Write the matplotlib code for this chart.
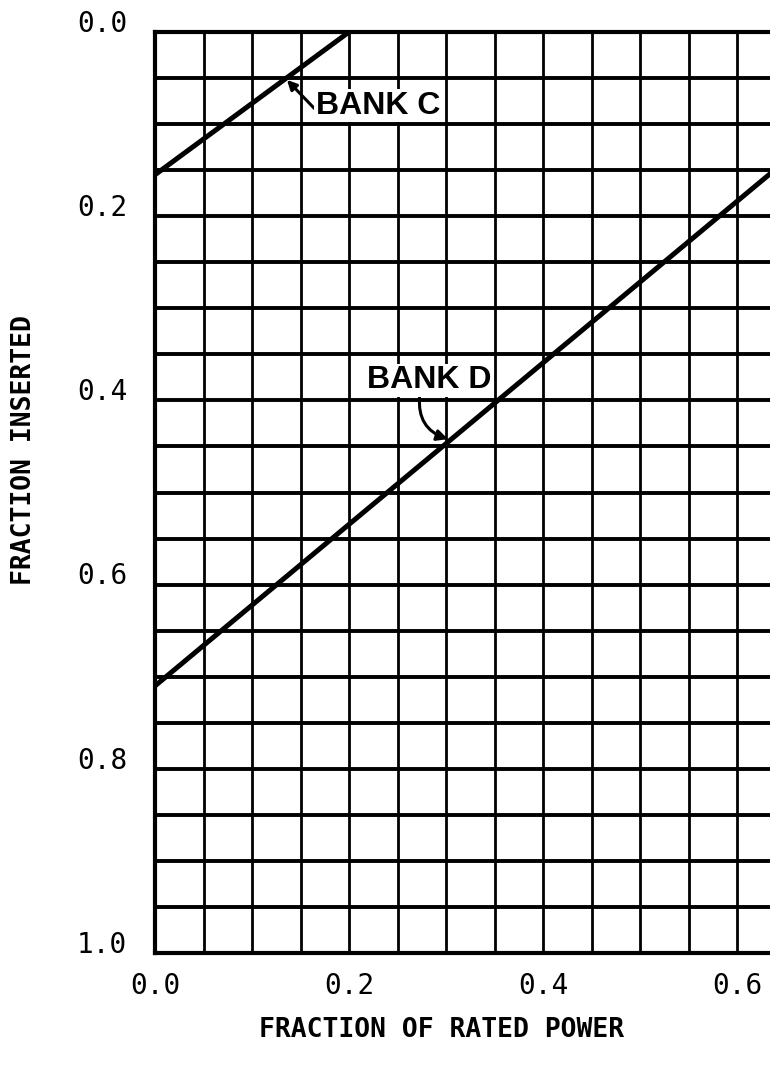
import numpy as np
import matplotlib
matplotlib.use("Agg")
import matplotlib.pyplot as plt
from matplotlib.transforms import ScaledTranslation

# control bank insertion vs. power
bank_c_power = [0.0, 0.2]
bank_c_insert = [0.155, 0.0]

bank_d_power = [0.0, 0.65]
bank_d_insert = [0.71, 0.14]

x_ticks = [0.0, 0.2, 0.4, 0.6]
x_tick_labels = ["0.0", "0.2", "0.4", "0.6"]
y_ticks = [0.0, 0.2, 0.4, 0.6, 0.8, 1.0]
y_tick_labels = ["0.0", "0.2", "0.4", "0.6", "0.8", "1.0"]

GRID_STEP = 0.05
X_MAX = 0.634

MONO = "DejaVu Sans Mono"


def main():
    fig = plt.figure(figsize=(7.70, 10.72), dpi=100)
    ax = fig.add_axes([155 / 770, 1 - 953 / 1072, 1 - 155 / 770, (953 - 32) / 1072])

    ax.set_xlim(0, X_MAX)
    ax.set_ylim(1.0, 0.0)

    # graph-paper grid
    for gx in np.arange(GRID_STEP, X_MAX, GRID_STEP):
        ax.axvline(gx, color="black", linewidth=2.0, zorder=1)
    for gy in np.arange(GRID_STEP, 1.0, GRID_STEP):
        ax.axhline(gy, color="black", linewidth=2.8, zorder=1)

    ax.plot(bank_c_power, bank_c_insert, color="black", linewidth=3.6,
            solid_capstyle="butt", zorder=3)
    ax.plot(bank_d_power, bank_d_insert, color="black", linewidth=3.6,
            solid_capstyle="butt", zorder=3)

    ax.annotate("BANK C", xy=(0.136, 0.052), xytext=(0.166, 0.080),
                family="Liberation Sans", weight="bold", fontsize=23,
                va="center", ha="left",
                bbox=dict(boxstyle="square,pad=0.05", fc="white", ec="none"),
                arrowprops=dict(arrowstyle="-|>", color="black", lw=2.2,
                                shrinkA=0, shrinkB=0, mutation_scale=14,
                                relpos=(0.0, 0.35)),
                zorder=4)
    ax.annotate("BANK D", xy=(0.302, 0.442), xytext=(0.219, 0.378),
                family="Liberation Sans", weight="bold", fontsize=23,
                va="center", ha="left",
                bbox=dict(boxstyle="square,pad=0.05", fc="white", ec="none"),
                arrowprops=dict(arrowstyle="-|>", color="black", lw=2.2,
                                shrinkA=0, shrinkB=0, mutation_scale=16,
                                connectionstyle="arc3,rad=0.4",
                                relpos=(0.42, 0.0)),
                zorder=4)

    for side in ["left", "top", "bottom"]:
        ax.spines[side].set_linewidth(3.0)
    ax.spines["right"].set_visible(False)

    ax.set_xticks(x_ticks)
    ax.set_xticklabels(x_tick_labels, family=MONO, fontsize=20)
    ax.set_yticks(y_ticks)
    ax.set_yticklabels(y_tick_labels, family=MONO, fontsize=20)
    ax.tick_params(axis="both", length=0)
    ax.tick_params(axis="x", pad=14)
    ax.tick_params(axis="y", pad=20)

    # y labels sit a little above their grid line
    shift = ScaledTranslation(0, 8 / 72, fig.dpi_scale_trans)
    for lbl in ax.get_yticklabels():
        lbl.set_transform(lbl.get_transform() + shift)

    fig.text(442 / 770, 1 - 1030 / 1072, "FRACTION OF RATED POWER",
             family=MONO, weight="bold", fontsize=19, ha="center", va="center")
    fig.text(24 / 770, 1 - 450 / 1072, "FRACTION INSERTED",
             family=MONO, weight="bold", fontsize=19, ha="center", va="center",
             rotation=90)

    fig.savefig("out.png", dpi=100, facecolor="white")


if __name__ == "__main__":
    main()
